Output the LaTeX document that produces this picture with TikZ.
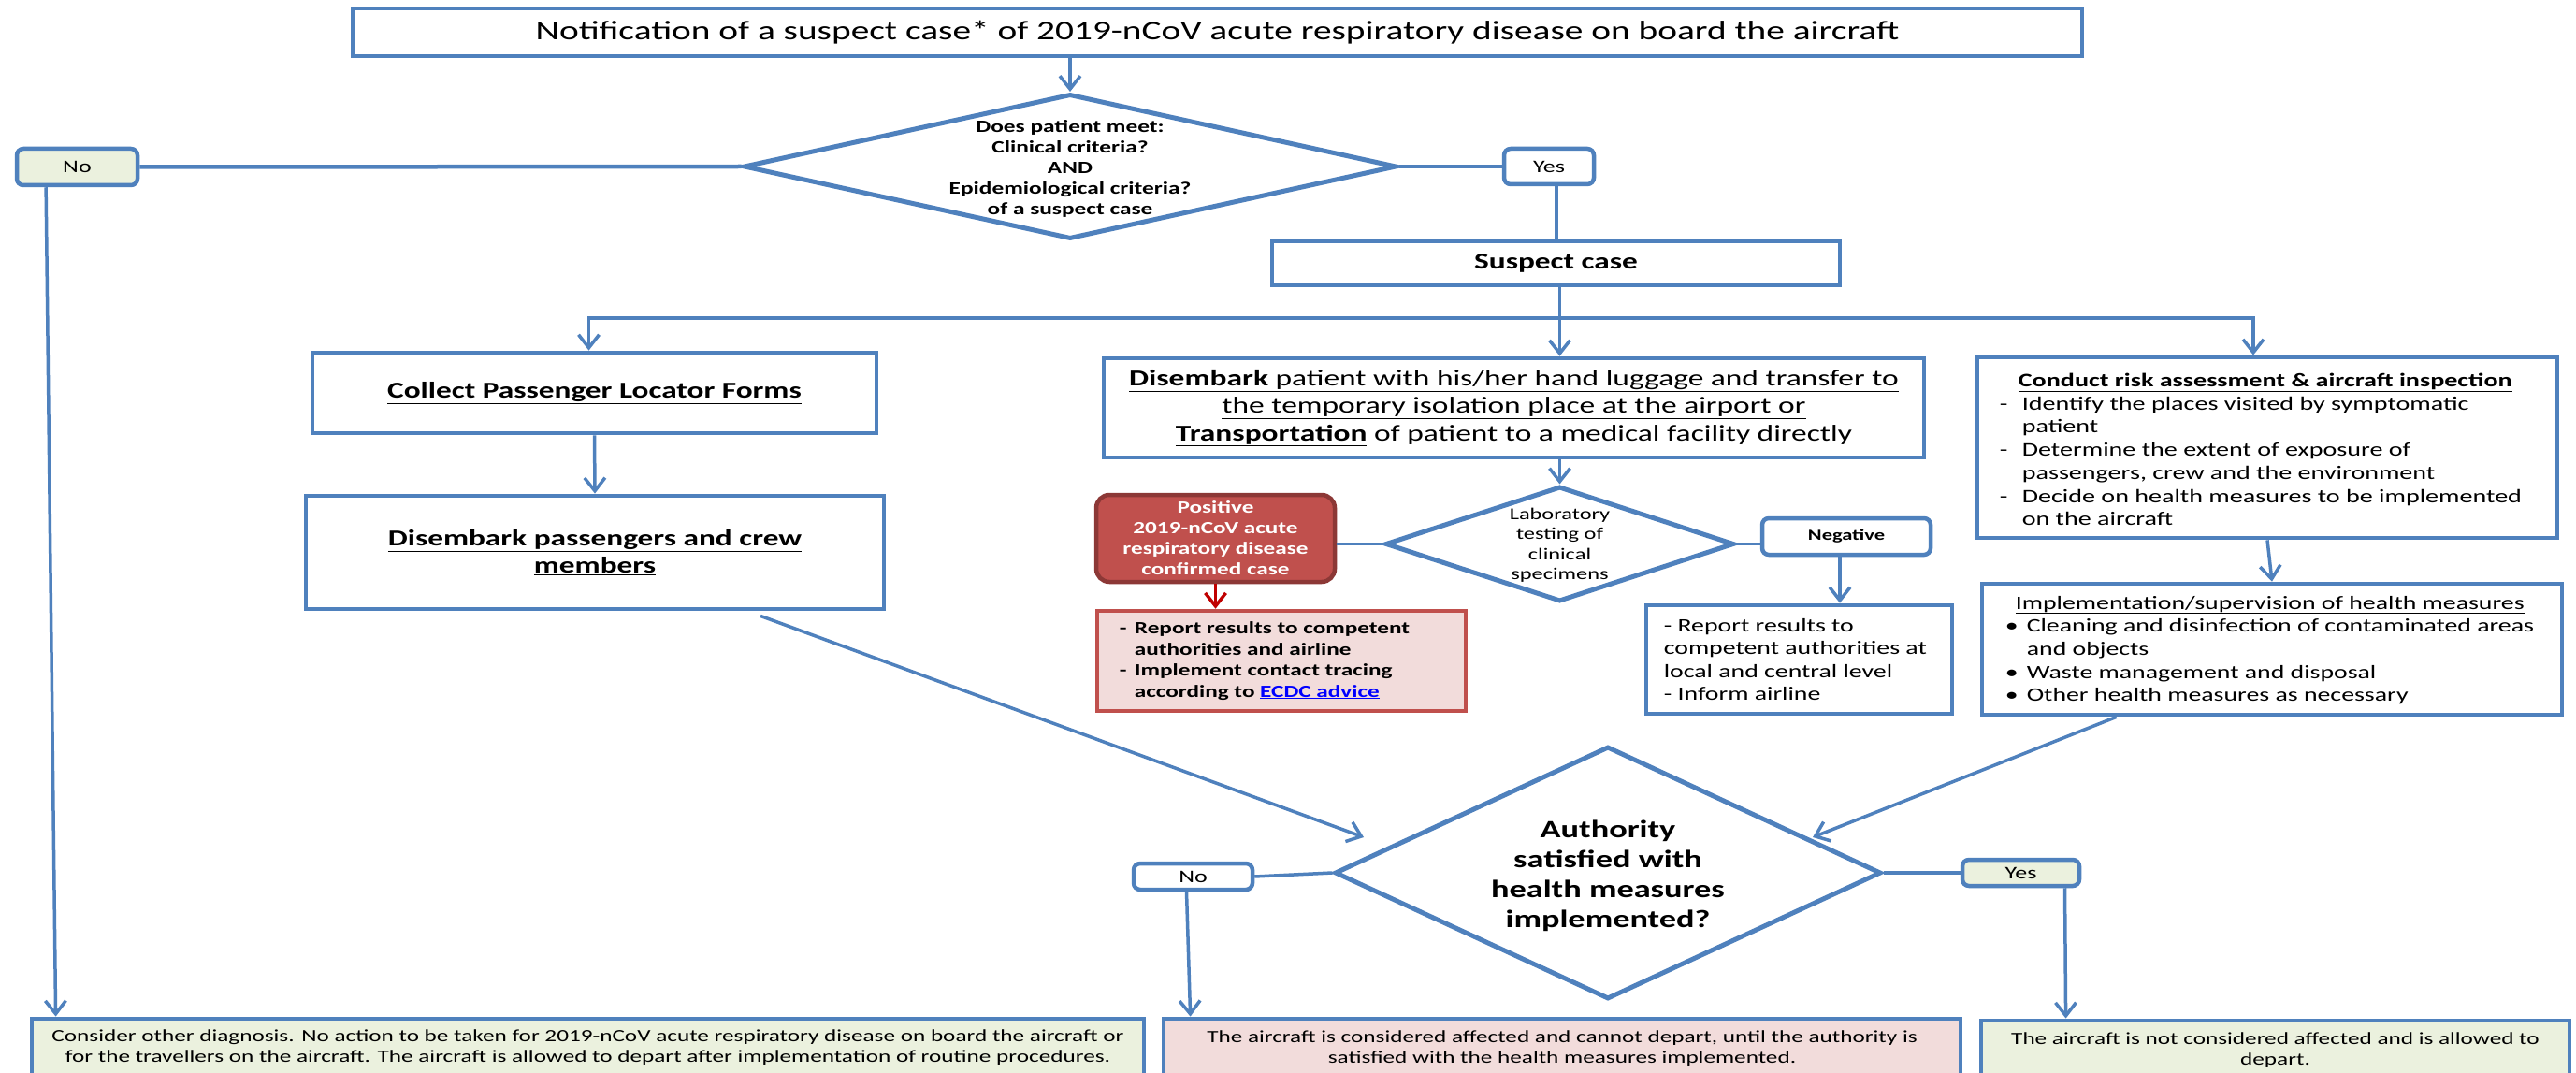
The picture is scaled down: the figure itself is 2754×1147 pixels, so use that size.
\documentclass[tikz,border=0pt]{standalone}
\usepackage{fontspec}
\setmainfont{Carlito}[FakeStretch=1.37]
\usetikzlibrary{arrows.meta,calc,shapes.geometric}
\definecolor{cblue}{HTML}{4F81BD}
\definecolor{cgreen}{HTML}{EBF1DE}
\definecolor{cpink}{HTML}{F2DCDB}
\definecolor{cred}{HTML}{C0504D}
\definecolor{cdred}{HTML}{8C3836}
\definecolor{carrred}{HTML}{C00000}
\definecolor{linkblue}{HTML}{0000FF}
\newcommand\myfs[2]{\fontsize{#1}{#2}\selectfont}
\tikzset{
  box/.style={draw=cblue, line width=4.8pt, fill=white, inner sep=0pt},
  lbl/.style={draw=cblue, line width=4.5pt, rounded corners=7pt, inner sep=0pt, font=\myfs{19}{23}},
  dia/.style={diamond, draw=cblue, line width=5pt, fill=white, inner sep=0pt},
  ln/.style={draw=cblue, line width=3.5pt},
  arr/.style={draw=cblue, line width=3.5pt, -{Straight Barb[length=14pt,width=22pt]}},
  redarr/.style={draw=carrred, line width=3.5pt, -{Straight Barb[length=14pt,width=22pt]}},
  txt/.style={inner sep=0pt, align=left, anchor=west}
}
\begin{document}
\begin{tikzpicture}[x=1pt,y=-1pt]
\useasboundingbox (0,0) rectangle (2754,1147);
\clip (0,0) rectangle (2754,1147);
\fill[white] (0,0) rectangle (2754,1147);

% title
\node[box, minimum width=1849pt, minimum height=51pt, font=\myfs{28.7}{34}] (title) at (1301.5,34.5)
  {Notification of a suspect case* of 2019-nCoV acute respiratory disease on board the aircraft};

% first decision
\node[dia, minimum width=698pt, minimum height=155pt] (d1) at (1144,178) {};
\node[inner sep=0pt, align=center, font=\myfs{18.5}{22}\bfseries] (d1t) at (1144,180)
  {Does patient meet:\\Clinical criteria?\\AND\\Epidemiological criteria?\\of a suspect case};
\node[lbl, fill=cgreen, minimum width=129pt, minimum height=39pt] (noA) at (82.5,178.5) {No};
\node[lbl, fill=white, minimum width=96pt, minimum height=38pt] (yesA) at (1656,178) {Yes};

\node[box, minimum width=607pt, minimum height=47pt, font=\myfs{24.3}{29}\bfseries] (suspect) at (1663.5,281.5) {Suspect case};

% left column
\node[box, minimum width=603pt, minimum height=86pt, font=\myfs{24.3}{29.5}\bfseries] (collect) at (635.5,420)
  {\underline{Collect Passenger Locator Forms}};
\node[box, minimum width=618pt, minimum height=121pt, align=center, font=\myfs{24.3}{29.5}\bfseries] (disP) at (636,590.5)
  {\underline{Disembark passengers and crew}\\\underline{members}};

% middle column
\node[box, minimum width=877pt, minimum height=106pt, align=center, font=\myfs{24.4}{29.5}] (disPat) at (1618.5,436)
  {\underline{\textbf{Disembark} patient with his/her hand luggage and transfer to}\\
   \underline{the temporary isolation place at the airport or}\\
   \underline{\textbf{Transportation}} of patient to a medical facility directly};

\node[dia, minimum width=373pt, minimum height=123pt] (lab) at (1667.5,581.5) {};
\node[inner sep=0pt, align=center, font=\myfs{17.8}{21.5}] (labt) at (1667.5,583)
  {Laboratory\\testing of\\clinical\\specimens};

\node[draw=cdred, fill=cred, line width=4.5pt, rounded corners=14pt, minimum width=255pt, minimum height=93pt,
  inner sep=0pt, text=white, align=center, font=\myfs{18.4}{22}\bfseries] (pos) at (1299.5,575.5)
  {Positive\\2019-nCoV acute\\respiratory disease\\confirmed case};

\node[draw=cred, fill=cpink, line width=4.5pt, minimum width=394pt, minimum height=107pt, inner sep=0pt] (redrep) at (1370,706.5) {};
\node[txt, font=\myfs{18.4}{22.5}\bfseries] (redrept) at ($(redrep.west)+(26,0)$)
  {\makebox[16pt][l]{-}Report results to competent\\
   \hspace*{16pt}authorities and airline\\
   \makebox[16pt][l]{-}Implement contact tracing\\
   \hspace*{16pt}according to \textcolor{linkblue}{\underline{ECDC advice}}};

\node[lbl, fill=white, minimum width=180pt, minimum height=39pt, font=\myfs{16.4}{20}\bfseries] (neg) at (1974,573.5) {Negative};
\node[box, minimum width=327pt, minimum height=116pt] (negrep) at (1923.5,705) {};
\node[txt, font=\myfs{20.3}{24.3}] (negrept) at ($(negrep.west)+(21,0)$)
  {- Report results to\\competent authorities at\\local and central level\\- Inform airline};

% right column
\node[box, minimum width=620pt, minimum height=193pt] (risk) at (2424,478.5) {};
\node[txt, font=\myfs{20.5}{24.7}] (riskt) at ($(risk.west)+(26,2)$)
  {\makebox[568pt][c]{\underline{\textbf{Conduct risk assessment \& aircraft inspection}}}\\
   \makebox[24pt][l]{-}Identify the places visited by symptomatic\\
   \hspace*{24pt}patient\\
   \makebox[24pt][l]{-}Determine the extent of exposure of\\
   \hspace*{24pt}passengers, crew and the environment\\
   \makebox[24pt][l]{-}Decide on health measures to be implemented\\
   \hspace*{24pt}on the aircraft};

\node[box, minimum width=620pt, minimum height=140pt] (impl) at (2429,694) {};
\node[txt, font=\myfs{20.3}{24.7}] (implt) at ($(impl.west)+(27,1)$)
  {\makebox[566pt][c]{\underline{Implementation/supervision of health measures}}\\
   \makebox[23pt][l]{\textbullet}Cleaning and disinfection of contaminated areas\\
   \hspace*{23pt}and objects\\
   \makebox[23pt][l]{\textbullet}Waste management and disposal\\
   \makebox[23pt][l]{\textbullet}Other health measures as necessary};

% authority decision
\node[dia, minimum width=584pt, minimum height=270pt] (auth) at (1719,933) {};
\node[inner sep=0pt, align=center, font=\myfs{26.5}{32}\bfseries] (autht) at (1719,936)
  {Authority\\satisfied with\\health measures\\implemented?};
\node[lbl, fill=white, minimum width=127pt, minimum height=28pt] (noB) at (1275.5,937) {No};
\node[lbl, fill=cgreen, minimum width=125pt, minimum height=28pt] (yesB) at (2160.5,933) {Yes};

% bottom outcomes
\node[draw=cblue, line width=4.8pt, fill=cgreen, minimum width=1189pt, minimum height=62pt, inner sep=0pt,
  align=center, font=\myfs{18.4}{22}] (bot1) at (628.5,1120)
  {Consider other diagnosis. No action to be taken for 2019-nCoV acute respiratory disease on board the aircraft or\\
   for the travellers on the aircraft. The aircraft is allowed to depart after implementation of routine procedures.};
\node[draw=cblue, line width=4.8pt, fill=cpink, minimum width=852pt, minimum height=64pt, inner sep=0pt,
  align=center, font=\myfs{18.4}{22}] (bot2) at (1670,1121)
  {The aircraft is considered affected and cannot depart, until the authority is\\
   satisfied with the health measures implemented.};
\node[draw=cblue, line width=4.8pt, fill=cgreen, minimum width=629pt, minimum height=64pt, inner sep=0pt,
  align=center, font=\myfs{18.4}{22}] (bot3) at (2432.5,1123)
  {The aircraft is not considered affected and is allowed to\\depart.};

% connectors
\draw[arr] (d1.north |- title.south) -- (d1.north);
\draw[ln, line width=4.5pt] (d1.west) -- (noA.east);
\draw[arr] ($(noA.south west)!0.25!(noA.south east)$) -- ($(bot1.north west)+(28,0)$);
\draw[ln, line width=4pt] (d1.east) -- (yesA.west);
\coordinate (ya) at ($(yesA.south)+(8,0)$);
\draw[ln] (ya) -- (ya |- suspect.north);
\coordinate (sc) at ($(suspect.south)+(4,0)$);
\draw[arr] (sc) -- (sc |- disPat.north);
\coordinate (br) at (1667.5,340);
\draw[arr] (br) -| ($(collect.north)+(-6,0)$);
\draw[arr] (br) -| ($(risk.north)+(-15,0)$);
\draw[arr] (collect.south) -- (disP.north);
\coordinate (dpS) at ($(disP.south)+(177,5)$);
\coordinate (aL) at (1458,895);
\draw[arr] (dpS) -- (aL);
\coordinate (imS) at ($(impl.south west)+(146,0)$);
\coordinate (aR) at (1938,895);
\draw[arr] (imS) -- (aR);
\draw[ln] (auth.west) -- (noB.east);
\draw[arr] ($(noB.south)+(-7,0)$) -- ($(bot2.north west)+(31,0)$);
\draw[ln] (auth.east) -- (yesB.west);
\draw[arr] ($(yesB.south)+(47,0)$) -- ($(bot3.north west)+(93,0)$);
\draw[arr] (lab.north |- disPat.south) -- (lab.north);
\draw[ln] (lab.west) -- (lab.west -| pos.east);
\draw[redarr] (pos.south) -- (pos.south |- redrep.north);
\draw[ln] (lab.east) -- (lab.east -| neg.west);
\coordinate (ng) at ($(neg.south)+(-7,0)$);
\draw[arr] (ng) -- (ng |- negrep.north);
\draw[arr] (risk.south) -- (impl.north);
\end{tikzpicture}
\end{document}
